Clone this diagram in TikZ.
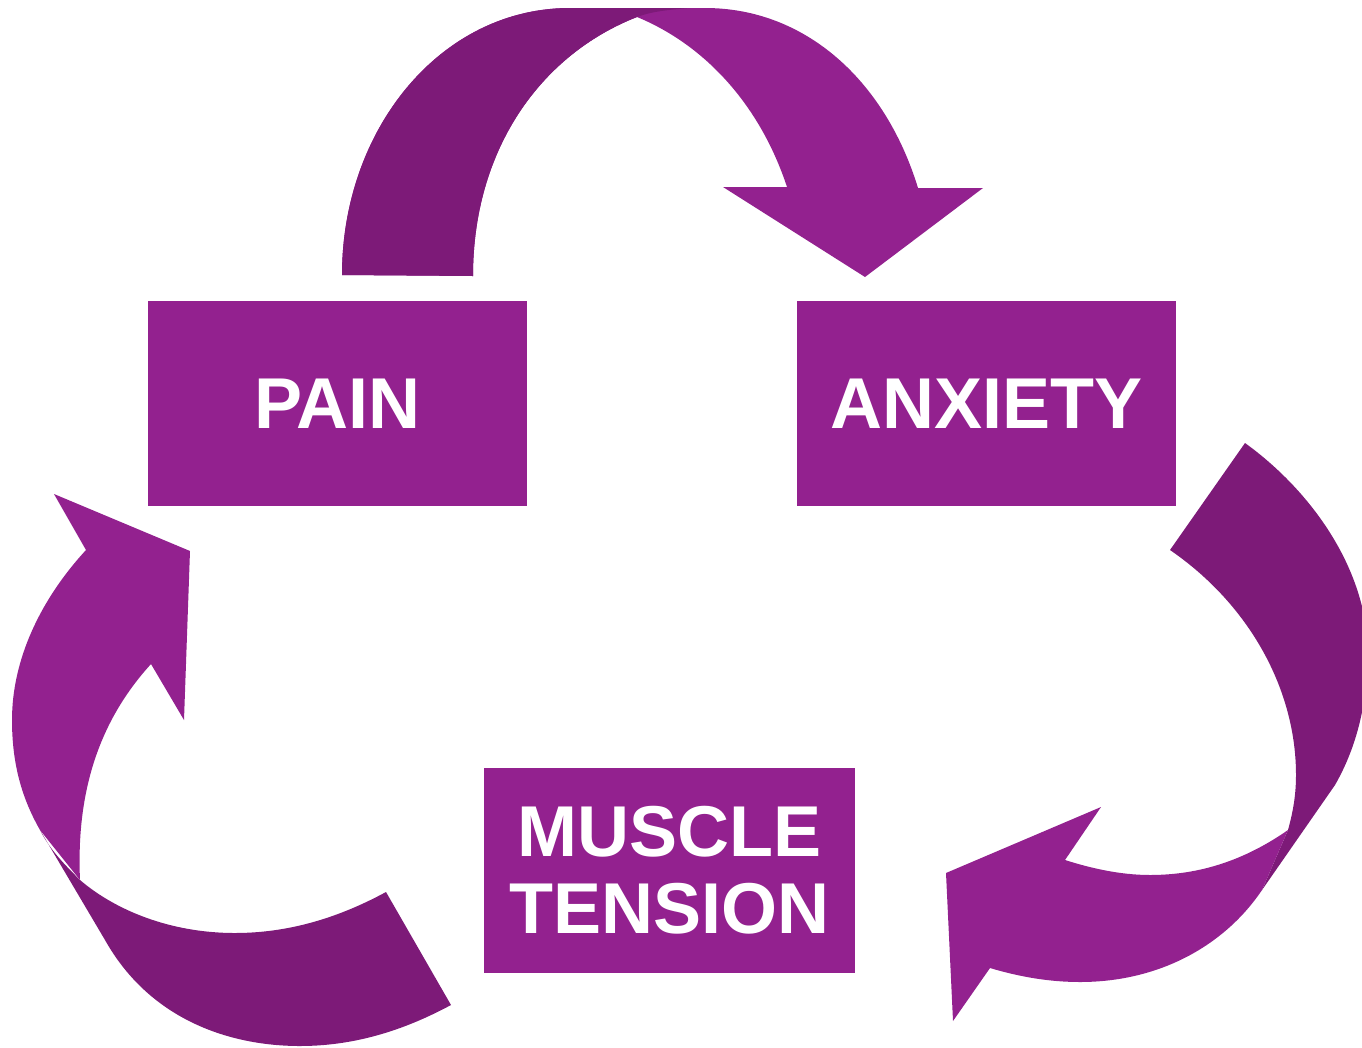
\documentclass[tikz,border=0pt]{standalone}
\usepackage{fontspec}
\setmainfont{Liberation Sans}
\usetikzlibrary{positioning}
\definecolor{plum}{RGB}{147,33,143}
\definecolor{dplum}{RGB}{125,26,120}
\tikzset{
  cbox/.style={draw=none,fill=plum,text=white,minimum width=379pt,minimum height=205pt,align=center,inner sep=0pt,font=\fontsize{72}{77}\selectfont\bfseries},
  lite/.style={fill=plum,draw=none},
  dark/.style={fill=dplum,draw=none},
}

\begin{document}
\begin{tikzpicture}[x=1pt,y=-1pt]
 \useasboundingbox (0,0) rectangle (1362,1047);
 \clip (0,0) rectangle (1362,1047);
 % the three boxes
 \node[cbox] (pain) at (337.5,403.5) {PAIN};
 \node[cbox] (anx) at (986.5,403.5) {ANXIETY};
 \node[cbox,minimum width=371pt] (mus) at (669.5,870.5) {MUSCLE\\TENSION};
 % top arrow: pain -> anxiety
 \fill[lite] (342,275) .. controls (342,130) and (440,8) .. (570,8) -- (705,8)
   .. controls (805,8) and (885,80) .. (918,188) -- (983,188) -- (865,277) -- (723,187) -- (787,187)
   .. controls (760,105) and (705,45) .. (637,17) .. controls (540,55) and (473,150) .. (473,276) -- cycle;
 \fill[dark] (342,275) .. controls (342,130) and (440,8) .. (570,8) -- (690,8)
   .. controls (665,10) and (650,12) .. (637,17) .. controls (540,55) and (473,150) .. (473,276) -- cycle;
 % right arrow: anxiety -> muscle tension
 \fill[dark] (1245,443) .. controls (1310,490) and (1370,570) .. (1368,660)
   .. controls (1366,710) and (1355,750) .. (1335,785) -- (1262,890) -- (1288,830)
   .. controls (1293,812) and (1296,795) .. (1296,775) .. controls (1296,690) and (1250,605) .. (1170,550) -- cycle;
 \fill[lite] (1288,830) .. controls (1245,860) and (1200,875) .. (1150,875)
   .. controls (1120,875) and (1090,868) .. (1065,860) -- (1101,807) -- (946,873) -- (953,1021) -- (990,968)
   .. controls (1020,977) and (1050,982) .. (1080,982) .. controls (1160,982) and (1225,945) .. (1262,890) -- cycle;
 % left arrow: muscle tension -> pain
 \fill[lite] (86,550) -- (54,494) -- (190,551) -- (184,720) -- (151,664)
   .. controls (100,720) and (76,790) .. (80,880) -- (40,830)
   .. controls (20,795) and (12,760) .. (12,720) .. controls (12,660) and (40,600) .. (86,550) -- cycle;
 \fill[dark] (40,830) -- (105,940) .. controls (150,1020) and (230,1046) .. (300,1046)
   .. controls (360,1046) and (410,1027) .. (451,1005) -- (386,892)
   .. controls (340,917) and (290,933) .. (235,933) .. controls (170,933) and (115,910) .. (80,880)
   .. controls (65,865) and (50,850) .. (40,830) -- cycle;
\end{tikzpicture}
\end{document}
